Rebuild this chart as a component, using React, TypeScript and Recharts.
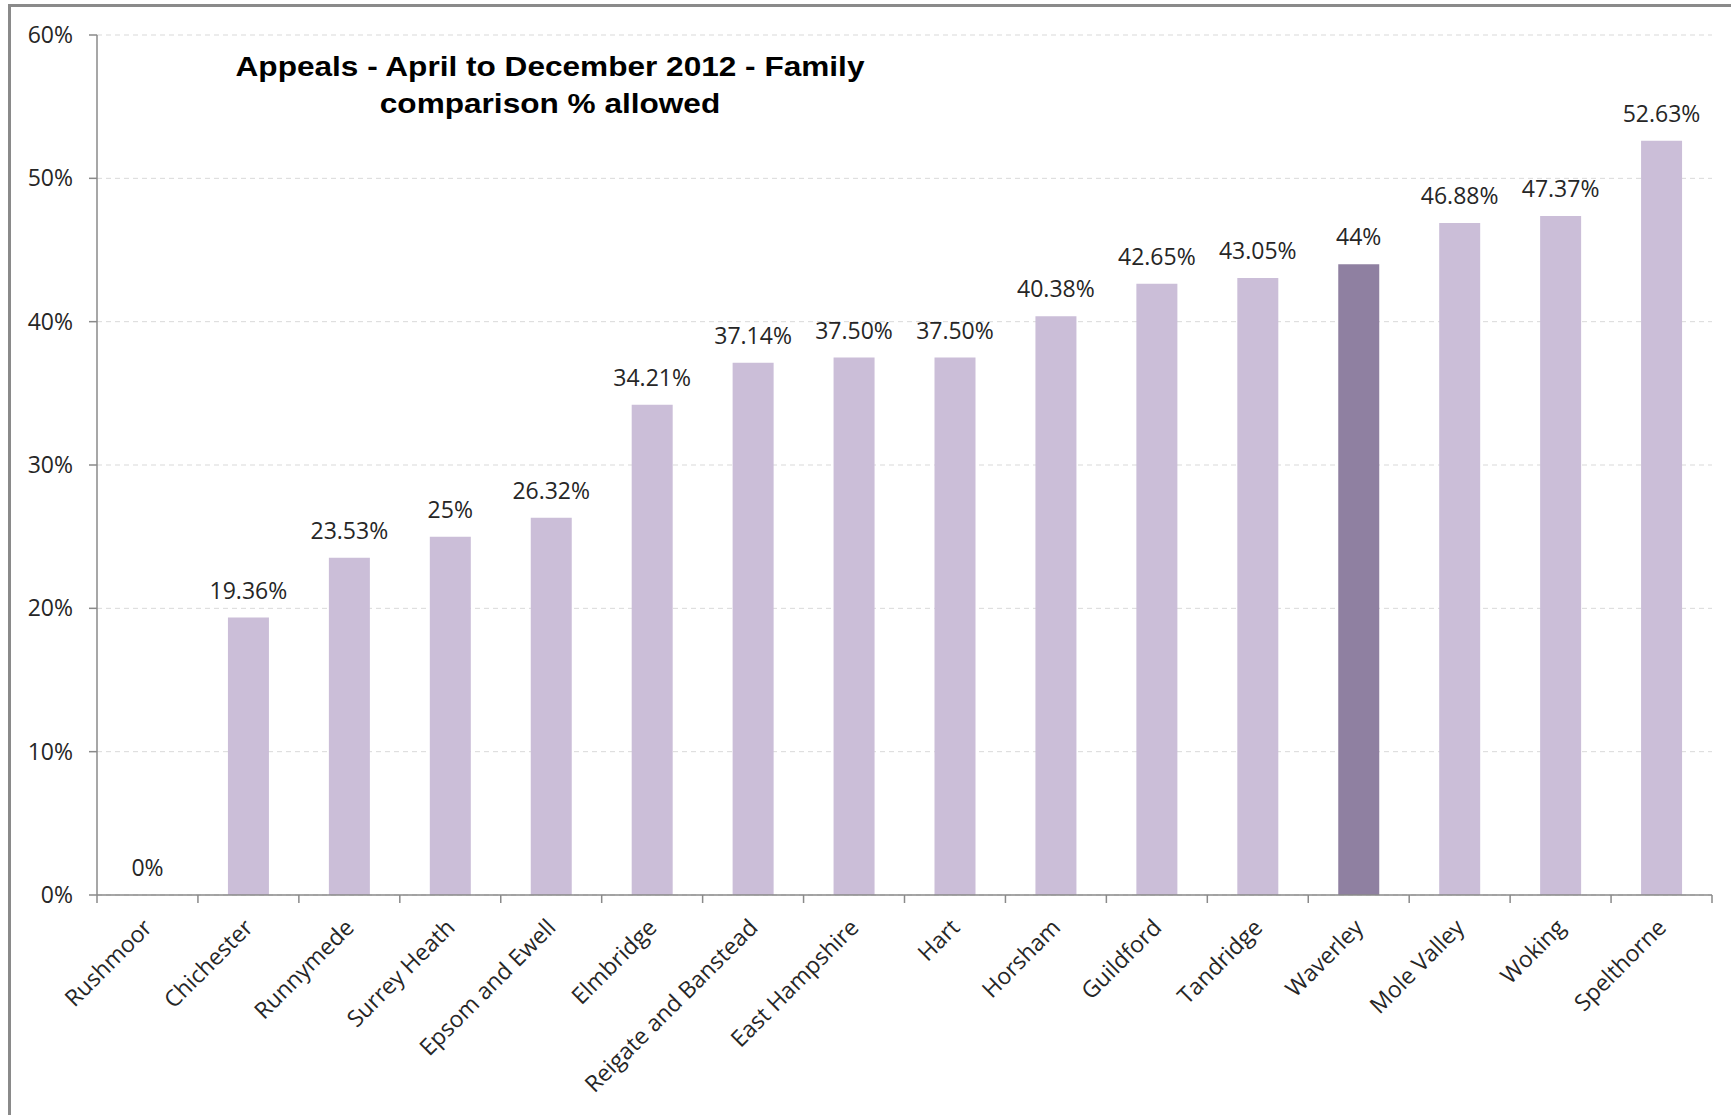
import { ComposedChart, Bar, Line, XAxis, YAxis, CartesianGrid, Cell, LabelList } from "recharts";

const councils = [
  "Rushmoor",
  "Chichester",
  "Runnymede",
  "Surrey Heath",
  "Epsom and Ewell",
  "Elmbridge",
  "Reigate and Banstead",
  "East Hampshire",
  "Hart",
  "Horsham",
  "Guildford",
  "Tandridge",
  "Waverley",
  "Mole Valley",
  "Woking",
  "Spelthorne",
];
const allowedPct = [0, 19.36, 23.53, 25, 26.32, 34.21, 37.14, 37.5, 37.5, 40.38, 42.65, 43.05, 44, 46.88, 47.37, 52.63];
const valueLabels = [
  "0%",
  "19.36%",
  "23.53%",
  "25%",
  "26.32%",
  "34.21%",
  "37.14%",
  "37.50%",
  "37.50%",
  "40.38%",
  "42.65%",
  "43.05%",
  "44%",
  "46.88%",
  "47.37%",
  "52.63%",
];
const yTicks = [0, 10, 20, 30, 40, 50, 60];
const highlighted = "Waverley";

const W = 1731;
const H = 1115;
const MARGIN = { top: 35, right: 19, bottom: 0, left: 0 };
const Y_AXIS_W = 97;
const X_AXIS_H = 220;
const HALF_BAND = (W - MARGIN.right - Y_AXIS_W) / councils.length / 2;

const COLORS = {
  bar: "#cbbed8",
  barHi: "#8f80a1",
  axis: "#8a8a8a",
  grid: "#d9d9d9",
  text: "#262626",
  frame: "#8a8a8a",
};
const FONT = "'Open Sans', sans-serif";

const data = councils.map((name, i) => ({ name, value: allowedPct[i], label: valueLabels[i] }));

// tick marks sit on category boundaries, labels slanted at -45°
function CategoryTick(props: any) {
  const { x, y, payload, index } = props;
  const last = index === councils.length - 1;
  const tx = x + 6;
  const ty = y + 34;
  return (
    <g>
      <line x1={x - HALF_BAND} y1={y} x2={x - HALF_BAND} y2={y + 8} stroke={COLORS.axis} strokeWidth={1.5} />
      {last && <line x1={x + HALF_BAND} y1={y} x2={x + HALF_BAND} y2={y + 8} stroke={COLORS.axis} strokeWidth={1.5} />}
      <text
        x={tx}
        y={ty}
        transform={`rotate(-45, ${tx}, ${ty})`}
        textAnchor="end"
        fill={COLORS.text}
        fontSize={23}
        fontFamily={FONT}
      >
        {payload.value}
      </text>
    </g>
  );
}

export default function App() {
  return (
    <div style={{ position: "absolute", left: 0, top: 0, width: W, height: H, overflow: "hidden", background: "#fff" }}>
      <div
        style={{
          position: "absolute",
          left: 8,
          top: 4,
          width: W - 8,
          height: H - 4,
          borderTop: `3px solid ${COLORS.frame}`,
          borderLeft: `3px solid ${COLORS.frame}`,
          boxSizing: "border-box",
        }}
      />
      <ComposedChart width={W} height={H} data={data} margin={MARGIN}>
        <CartesianGrid vertical={false} stroke={COLORS.grid} strokeDasharray="5 4" />
        <XAxis
          dataKey="name"
          interval={0}
          height={X_AXIS_H}
          tickLine={false}
          tickSize={0}
          tickMargin={0}
          axisLine={{ stroke: COLORS.axis, strokeWidth: 1.5 }}
          tick={<CategoryTick />}
        />
        <YAxis
          width={Y_AXIS_W}
          domain={[0, 60]}
          ticks={yTicks}
          interval={0}
          tickFormatter={(v: number) => `${v}%`}
          axisLine={{ stroke: COLORS.axis, strokeWidth: 1.5 }}
          tickLine={{ stroke: COLORS.axis, strokeWidth: 1.5 }}
          tickSize={8}
          tickMargin={16}
          tick={{ fill: COLORS.text, fontSize: 23, fontFamily: FONT }}
        />
        <Bar dataKey="value" barSize={41} isAnimationActive={false}>
          {data.map((d) => (
            <Cell key={d.name} fill={d.name === highlighted ? COLORS.barHi : COLORS.bar} />
          ))}
        </Bar>
        {/* invisible series just to carry the value labels, so the 0% one shows too */}
        <Line dataKey="value" stroke="none" dot={false} activeDot={false} isAnimationActive={false}>
          <LabelList dataKey="label" position="top" offset={19} fill={COLORS.text} fontSize={23} fontFamily={FONT} />
        </Line>
      </ComposedChart>
      <svg width={W} height={H} style={{ position: "absolute", left: 0, top: 0, pointerEvents: "none" }}>
        <g transform="translate(550,0) scale(1.17,1)" fontFamily="'Liberation Sans', Arial, sans-serif" fontWeight="bold" fontSize={27} fill="#000" textAnchor="middle">
          <text x={0} y={76}>Appeals - April to December 2012 - Family</text>
          <text x={0} y={113}>comparison % allowed</text>
        </g>
      </svg>
    </div>
  );
}
